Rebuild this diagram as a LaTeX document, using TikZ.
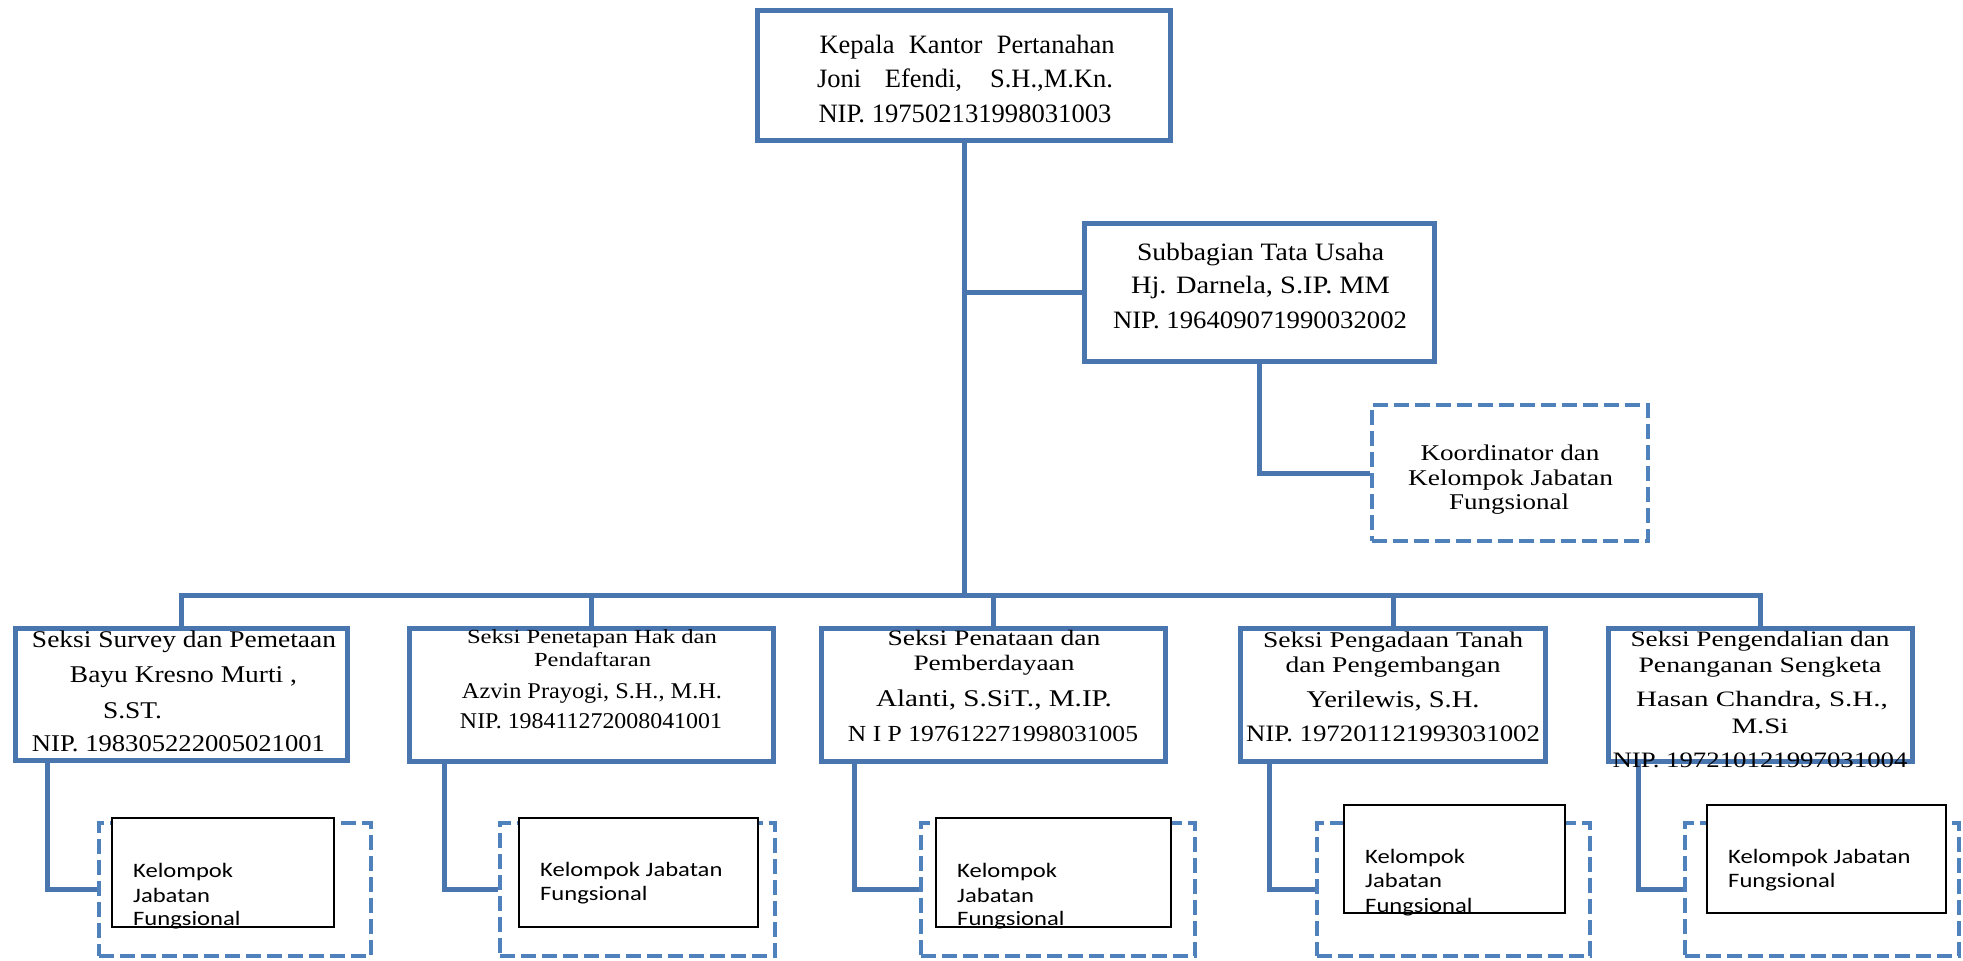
\documentclass[tikz,border=0pt]{standalone}
\usepackage{fontspec}
\usepackage{graphicx}
\setmainfont{Liberation Serif}
\newfontfamily\calfont{Carlito}
\definecolor{bl}{RGB}{74,118,176}
\definecolor{bld}{RGB}{79,129,189}
\newcommand{\fitline}[3]{\resizebox{#1pt}{\height}{\fontsize{#2pt}{#2pt}\selectfont #3}}
\newcommand{\justline}[3]{\makebox[#1pt][s]{\fontsize{#2pt}{#2pt}\selectfont #3}}
\newcommand{\calline}[2]{\scalebox{1.2}[1]{\calfont\fontsize{#1pt}{#1pt}\selectfont #2}}
\tikzset{
  sz/.style 2 args={minimum width=#1pt, minimum height=#2pt},
  sbox/.style={draw=bl, line width=5pt, rectangle, inner sep=0pt, fill=white},
  dbox/.style={draw=bld, line width=4pt, dash pattern=on 15pt off 6pt, rectangle, inner sep=0pt},
  ibox/.style={draw=black, line width=1.3pt, fill=white, rectangle, inner sep=0pt},
  conn/.style={draw=bl, line width=5pt},
  txt/.style={anchor=base, inner sep=0pt},
  ltxt/.style={anchor=base west, inner sep=0pt}
}
\begin{document}
\begin{tikzpicture}[x=1pt,y=-1pt]
\fill[white] (0,0) rectangle (1963,961);
\useasboundingbox (0,0) rectangle (1963,961);
% solid boxes
\node[sbox, sz={413}{130}] (top) at (964,75.5) {};
\node[sbox, sz={350}{138}] (sub) at (1259.5,292.5) {};
\node[sbox, sz={332}{132}] (b1) at (181.5,694.5) {};
\node[sbox, sz={364}{133}] (b2) at (591.5,695) {};
\node[sbox, sz={344}{133}] (b3) at (993.5,695) {};
\node[sbox, sz={305}{133}] (b4) at (1393,695) {};
\node[sbox, sz={304}{133}] (b5) at (1760.5,695) {};
% dashed boxes
\node[dbox, sz={276}{136}] (koord) at (1510,473) {};
\node[dbox, sz={272}{133}] (d1) at (235,889.5) {};
\node[dbox, sz={275}{133}] (d2) at (637.5,889.5) {};
\node[dbox, sz={274}{133}] (d3) at (1058,889.5) {};
\node[dbox, sz={273}{133}] (d4) at (1453.5,889.5) {};
\node[dbox, sz={274}{133}] (d5) at (1822,889.5) {};
% inner boxes
\node[ibox, sz={222}{109}] (i1) at (223,872.5) {};
\node[ibox, sz={239}{109}] (i2) at (638.5,872.5) {};
\node[ibox, sz={235}{109}] (i3) at (1053.5,872.5) {};
\node[ibox, sz={221}{108}] (i4) at (1454.5,859) {};
\node[ibox, sz={239}{108}] (i5) at (1826.5,859) {};
% connectors
\coordinate (bus) at (964,595);
\draw[conn] (top.south) -- (bus);
\draw[conn] (top.south |- sub.west) -- (sub.west);
\draw[conn] (sub.south) |- (koord.west);
\draw[conn] (b1.north) |- (bus) -| (b5.north);
\draw[conn] (b2.north) -- (b2.north |- bus);
\draw[conn] (b3.north) -- (b3.north |- bus);
\draw[conn] (b4.north) -- (b4.north |- bus);
\draw[conn] ([xshift=34pt]b1.south west) |- (d1.west);
\draw[conn] ([xshift=37pt]b2.south west) |- (d2.west);
\draw[conn] ([xshift=35pt]b3.south west) |- (d3.west);
\draw[conn] ([xshift=31pt]b4.south west) |- (d4.west);
\draw[conn] ([xshift=32pt]b5.south west) |- (d5.west);
% top text
\node[txt] (t0a) at (967,53) {\justline{295}{26.5}{Kepala Kantor Pertanahan}};
\node[txt] (t0b) at (965,87) {\justline{296}{26.5}{Joni Efendi, S.H.,M.Kn.}};
\node[txt] (t0c) at (965,122) {\fitline{293}{26.5}{NIP. 197502131998031003}};
% sub text
\node[txt] (tsa) at (1260.5,260) {\fitline{247}{25}{Subbagian Tata Usaha}};
\node[txt] (tsb) at (1260.5,293) {\fitline{259}{25}{Hj. Darnela, S.IP. MM}};
\node[txt] (tsc) at (1260,328) {\fitline{294}{25}{NIP. 196409071990032002}};
% koord text
\node[txt] (tka) at (1510,460) {\fitline{179}{22.5}{Koordinator dan}};
\node[txt] (tkb) at (1510.5,485) {\fitline{205}{22.5}{Kelompok Jabatan}};
\node[txt] (tkc) at (1509,509) {\fitline{120}{22.5}{Fungsional}};
% b1
\node[txt] (t1a) at (184,647) {\fitline{304}{24}{Seksi Survey dan Pemetaan}};
\node[txt] (t1b) at (183.5,682) {\fitline{227}{24}{Bayu Kresno Murti ,}};
\node[txt] (t1c) at (132.5,718) {\fitline{59}{24}{S.ST.}};
\node[txt] (t1d) at (178.5,751) {\fitline{293}{24}{NIP. 198305222005021001}};
% b2
\node[txt] (t2a) at (592,643) {\fitline{250}{20}{Seksi Penetapan Hak dan}};
\node[txt] (t2b) at (592.5,666) {\fitline{117}{20}{Pendaftaran}};
\node[txt] (t2c) at (592,698) {\fitline{260}{22.5}{Azvin Prayogi, S.H., M.H.}};
\node[txt] (t2d) at (591,728) {\fitline{262}{22.5}{NIP. 198411272008041001}};
% b3
\node[txt] (t3a) at (994,645) {\fitline{213}{22}{Seksi Penataan dan}};
\node[txt] (t3b) at (994,670) {\fitline{161}{22}{Pemberdayaan}};
\node[txt] (t3c) at (994,706) {\fitline{236}{24}{Alanti, S.SiT., M.IP.}};
\node[txt] (t3d) at (993,741) {\fitline{290}{23}{N I P 197612271998031005}};
% b4
\node[txt] (t4a) at (1393,647) {\fitline{260}{22.5}{Seksi Pengadaan Tanah}};
\node[txt] (t4b) at (1393,672) {\fitline{215}{22.5}{dan Pengembangan}};
\node[txt] (t4c) at (1393,707) {\fitline{173}{24}{Yerilewis, S.H.}};
\node[txt] (t4d) at (1393,741) {\fitline{294}{23.5}{NIP. 197201121993031002}};
% b5
\node[txt] (t5a) at (1760,646) {\fitline{259}{22}{Seksi Pengendalian dan}};
\node[txt] (t5b) at (1760,672) {\fitline{243}{22}{Penanganan Sengketa}};
\node[txt] (t5c) at (1762,706) {\fitline{252}{22}{Hasan Chandra, S.H.,}};
\node[txt] (t5d) at (1760,733) {\fitline{57}{22}{M.Si}};
\node[txt] (t5e) at (1760,767) {\fitline{295}{22}{NIP. 197210121997031004}};
% inner texts
\node[ltxt] (k1a) at (133,877) {\calline{20.5}{Kelompok}};
\node[ltxt] (k1b) at (133,902) {\calline{20.5}{Jabatan}};
\node[ltxt] (k1c) at (133,925) {\calline{20.5}{Fungsional}};
\node[ltxt] (k2a) at (540,876) {\calline{20.5}{Kelompok Jabatan}};
\node[ltxt] (k2b) at (540,900) {\calline{20.5}{Fungsional}};
\node[ltxt] (k3a) at (957,877) {\calline{20.5}{Kelompok}};
\node[ltxt] (k3b) at (957,902) {\calline{20.5}{Jabatan}};
\node[ltxt] (k3c) at (957,925) {\calline{20.5}{Fungsional}};
\node[ltxt] (k4a) at (1365,863) {\calline{20.5}{Kelompok}};
\node[ltxt] (k4b) at (1365,887) {\calline{20.5}{Jabatan}};
\node[ltxt] (k4c) at (1365,912) {\calline{20.5}{Fungsional}};
\node[ltxt] (k5a) at (1728,863) {\calline{20.5}{Kelompok Jabatan}};
\node[ltxt] (k5b) at (1728,887) {\calline{20.5}{Fungsional}};
\end{tikzpicture}
\end{document}
